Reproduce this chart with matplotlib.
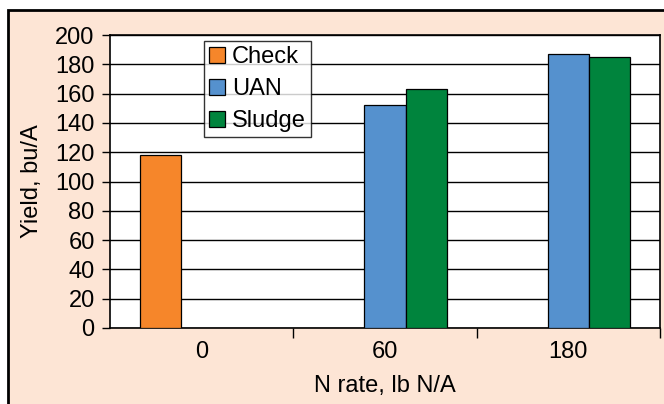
import numpy as np
import matplotlib.pyplot as plt
from matplotlib.patches import Rectangle

plt.rcParams['font.family'] = ['Liberation Sans', 'DejaVu Sans']

rates = ['0', '60', '180']
series = ['Check', 'UAN', 'Sludge']
check = [118, np.nan, np.nan]
uan = [np.nan, 152, 187]
sludge = [np.nan, 163, 185]
colors = ['#F6862A', '#5591CE', '#00843D']

fig = plt.figure(figsize=(6.64, 4.04), dpi=100)
bg = '#FDE5D5'
fig.patch.set_facecolor('white')
fig.patches.append(Rectangle((8 / 664, -0.05), 1.0, 1 - 10 / 404 + 0.05,
                             transform=fig.transFigure, facecolor=bg,
                             edgecolor='black', lw=2, zorder=-10))

ax = fig.add_axes([110 / 664, 1 - 328 / 404, 550 / 664, 293 / 404])
ax.set_facecolor('white')

x = np.arange(len(rates))
w = 0.225
for i, (vals, name) in enumerate(zip([check, uan, sludge], series)):
    ax.bar(x + (i - 1) * w, vals, w, color=colors[i], edgecolor='black',
           lw=0.9, label=name, zorder=3)

fs = 17
ax.set_xlim(-0.5, 2.5)
ax.set_ylim(0, 200)
ax.set_yticks(range(0, 201, 20))
ax.set_xticks(x)
ax.set_xticklabels(rates)
ax.set_xticks([0.5, 1.5, 2.5], minor=True)
ax.tick_params(axis='x', which='major', length=0, pad=9, labelsize=fs)
ax.tick_params(axis='x', which='minor', length=7, width=1, direction='out')
ax.tick_params(axis='y', length=6, width=1, direction='out', labelsize=fs, pad=5)
ax.yaxis.grid(True, color='black', lw=1, zorder=1)
for s in ax.spines.values():
    s.set_color('black')
    s.set_linewidth(1.2)

ax.set_xlabel('N rate, lb N/A', fontsize=fs, labelpad=9)
ax.set_ylabel('Yield, bu/A', fontsize=fs, labelpad=9)

leg = ax.legend(loc='upper left', bbox_to_anchor=(94 / 550, 1 - 6 / 293),
                fontsize=fs, frameon=True, fancybox=False, handlelength=0.65,
                handleheight=0.65, handletextpad=0.3, borderpad=0.22,
                labelspacing=0.42, borderaxespad=0)
leg.get_frame().set_edgecolor('black')
leg.get_frame().set_linewidth(1)
leg.set_zorder(5)

fig.savefig('out.png', dpi=100, facecolor=fig.get_facecolor())
